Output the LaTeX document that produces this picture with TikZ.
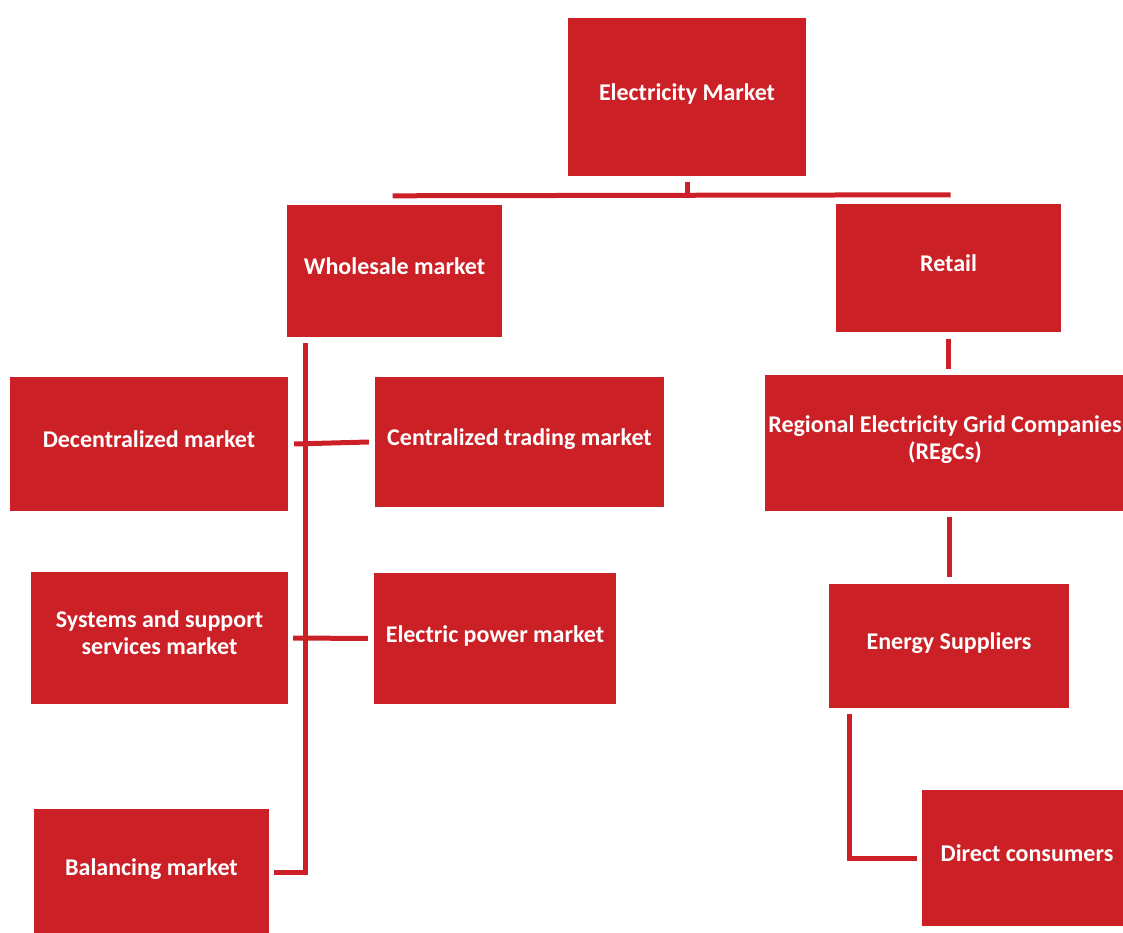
\documentclass[tikz,border=0pt]{standalone}
\usepackage{fontspec}
\setmainfont{Carlito}
\definecolor{mktred}{RGB}{204,32,39}
\tikzset{
  mbox/.style={fill=mktred, text=white, font=\fontsize{24}{27}\selectfont\bfseries,
    align=center, inner sep=0pt, anchor=center, text height=17pt, text depth=10pt},
  twoline/.style={text height=44pt, text depth=11pt},
  link/.style={draw=mktred, line width=5pt}
}
\begin{document}
\begin{tikzpicture}[x=1pt, y=1pt]

  \useasboundingbox (0,0) rectangle (1123,932);

  % top level
  \node[mbox, minimum width=238, minimum height=158] (em) at (687,835) {Electricity Market};
  \node[mbox, minimum width=215, minimum height=132] (wm) at (394.5,661) {Wholesale market};
  \node[mbox, minimum width=225, minimum height=128] (rt) at (948.5,664) {Retail};

  % wholesale side
  \node[mbox, minimum width=278, minimum height=134] (dm) at (149,488) {Decentralized market};
  \node[mbox, minimum width=289, minimum height=130] (ctm) at (519.5,490) {Centralized trading market};
  \node[mbox, twoline, minimum width=257, minimum height=132] (sssm) at (159.5,294) {Systems and support\\services market};
  \node[mbox, minimum width=242, minimum height=131] (epm) at (495,293.5) {Electric power market};
  \node[mbox, minimum width=235, minimum height=126] (bm) at (151.5,60) {Balancing market};

  % retail side
  \node[mbox, twoline, minimum width=360, minimum height=136] (regc) at (945,489) {Regional Electricity Grid Companies\\(REgCs)};
  \node[mbox, minimum width=240, minimum height=124] (es) at (949,286) {Energy Suppliers};
  \node[mbox, minimum width=210, minimum height=136] (dc) at (1027,74) {Direct consumers};

  % connectors
  \draw[link] ([yshift=-6]em.south) -- ++(0,-15);
  \draw[link] ([shift={(-2,9)}]wm.north) -- ([shift={(2,9)}]rt.north);
  \draw[link] ([shift={(19,-6)}]wm.south west) |- ([xshift=5]bm.east);
  \draw[link] ([xshift=6]dm.east) -- ([xshift=-6]ctm.west);
  \draw[link] ([xshift=5]sssm.east) -- ([xshift=-6]epm.west);
  \draw[link] ([yshift=-7]rt.south) -- ([yshift=6]rt.south |- regc.north);
  \draw[link] ([yshift=-6]es.north |- regc.south) -- ([yshift=7]es.north);
  \draw[link] ([shift={(21,-6)}]es.south west) |- ([xshift=-5]dc.west);

\end{tikzpicture}
\end{document}
